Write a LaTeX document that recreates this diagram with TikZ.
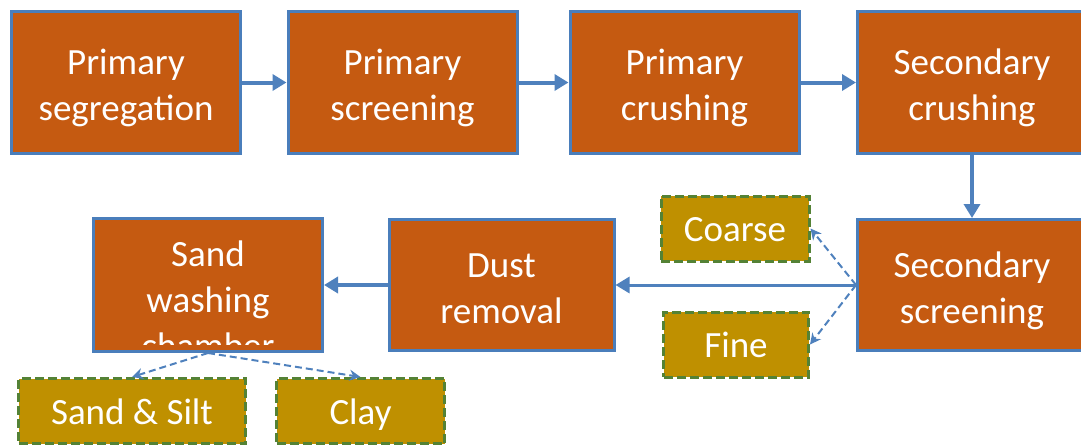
\documentclass[tikz,border=0pt]{standalone}
\usepackage{fontspec}
\setmainfont{Carlito}
\usetikzlibrary{arrows.meta}

\definecolor{procfill}{HTML}{C55A11}
\definecolor{procline}{HTML}{4A7EBB}
\definecolor{flowblue}{HTML}{4F81BD}
\definecolor{prodfill}{HTML}{BF9000}
\definecolor{prodline}{HTML}{548235}

\begin{document}
\begin{tikzpicture}[
  x=1pt, y=-1pt,
  every node/.style={font=\fontsize{37}{46}\selectfont, text=white, align=center, inner sep=0pt},
  twoline/.style={execute at begin node={\rule[-10pt]{0pt}{96pt}}},
  oneline/.style={execute at begin node={\rule[-9pt]{0pt}{44pt}}},
  proc/.style={twoline, fill=procfill, draw=procline, line width=3pt, minimum width=229pt, minimum height=142pt},
  prod/.style={oneline, fill=prodfill, draw=prodline, line width=3pt, dash pattern=on 9pt off 4pt, minimum height=65pt},
  flow/.style={draw=flowblue, line width=4pt, -{Triangle[length=14pt,width=16pt]}},
  split/.style={draw=flowblue, line width=2pt, dash pattern=on 7pt off 4pt, -{Stealth[length=11pt,width=11pt]}}
]

% Frame: 1081 x 447, the right and bottom boxes run past it
\useasboundingbox (0,0) rectangle (1081,447);
\clip (0,0) rectangle (1081,447);

% --- top row ---
\node[proc] (seg) at (126,82.5) {Primary\\segregation};
\node[proc] (scrn) at (402.5,82.5) {Primary\\screening};
\node[proc] (crush) at (684.5,82.5) {Primary\\crushing};
\node[proc] (crushb) at (972,82.5) {Secondary\\crushing};

% --- second row ---
\node[proc, minimum height=131pt] (scrnb) at (972,285) {Secondary\\screening};
\node[proc, minimum width=225pt, minimum height=131pt] (dust) at (501.5,285) {Dust\\removal};
\node[proc, minimum height=133pt] (wash) at (208,285) {};
\begin{scope}
  % text runs out of the box, last line is cut
  \clip (94,219) rectangle (322,344);
  \node[twoline] (washtxt) at (208,305) {Sand\\washing\\chamber};
\end{scope}

% --- products ---
\node[prod, minimum width=148pt] (coarse) at (735,228.5) {Coarse};
\node[prod, minimum width=145pt] (fine) at (736,344.5) {Fine};
\node[prod, minimum width=227pt] (silt) at (132,411) {Sand \& Silt};
\node[prod, minimum width=168pt] (clay) at (360.5,411) {Clay};

% --- main flow ---
\draw[flow] (seg) -- (scrn);
\draw[flow] (scrn) -- (crush);
\draw[flow] (crush) -- (crushb);
\draw[flow] (crushb) -- (scrnb);
\draw[flow, line width=3pt] (scrnb) -- (dust);
\draw[flow] (dust) -- (wash);

% --- split outputs ---
\draw[split] (scrnb.west) -- (coarse.east);
\draw[split] (scrnb.west) -- (fine.east);
\draw[split] (wash.south) -- (silt.north);
\draw[split] (wash.south) -- (clay.north);

\end{tikzpicture}
\end{document}
